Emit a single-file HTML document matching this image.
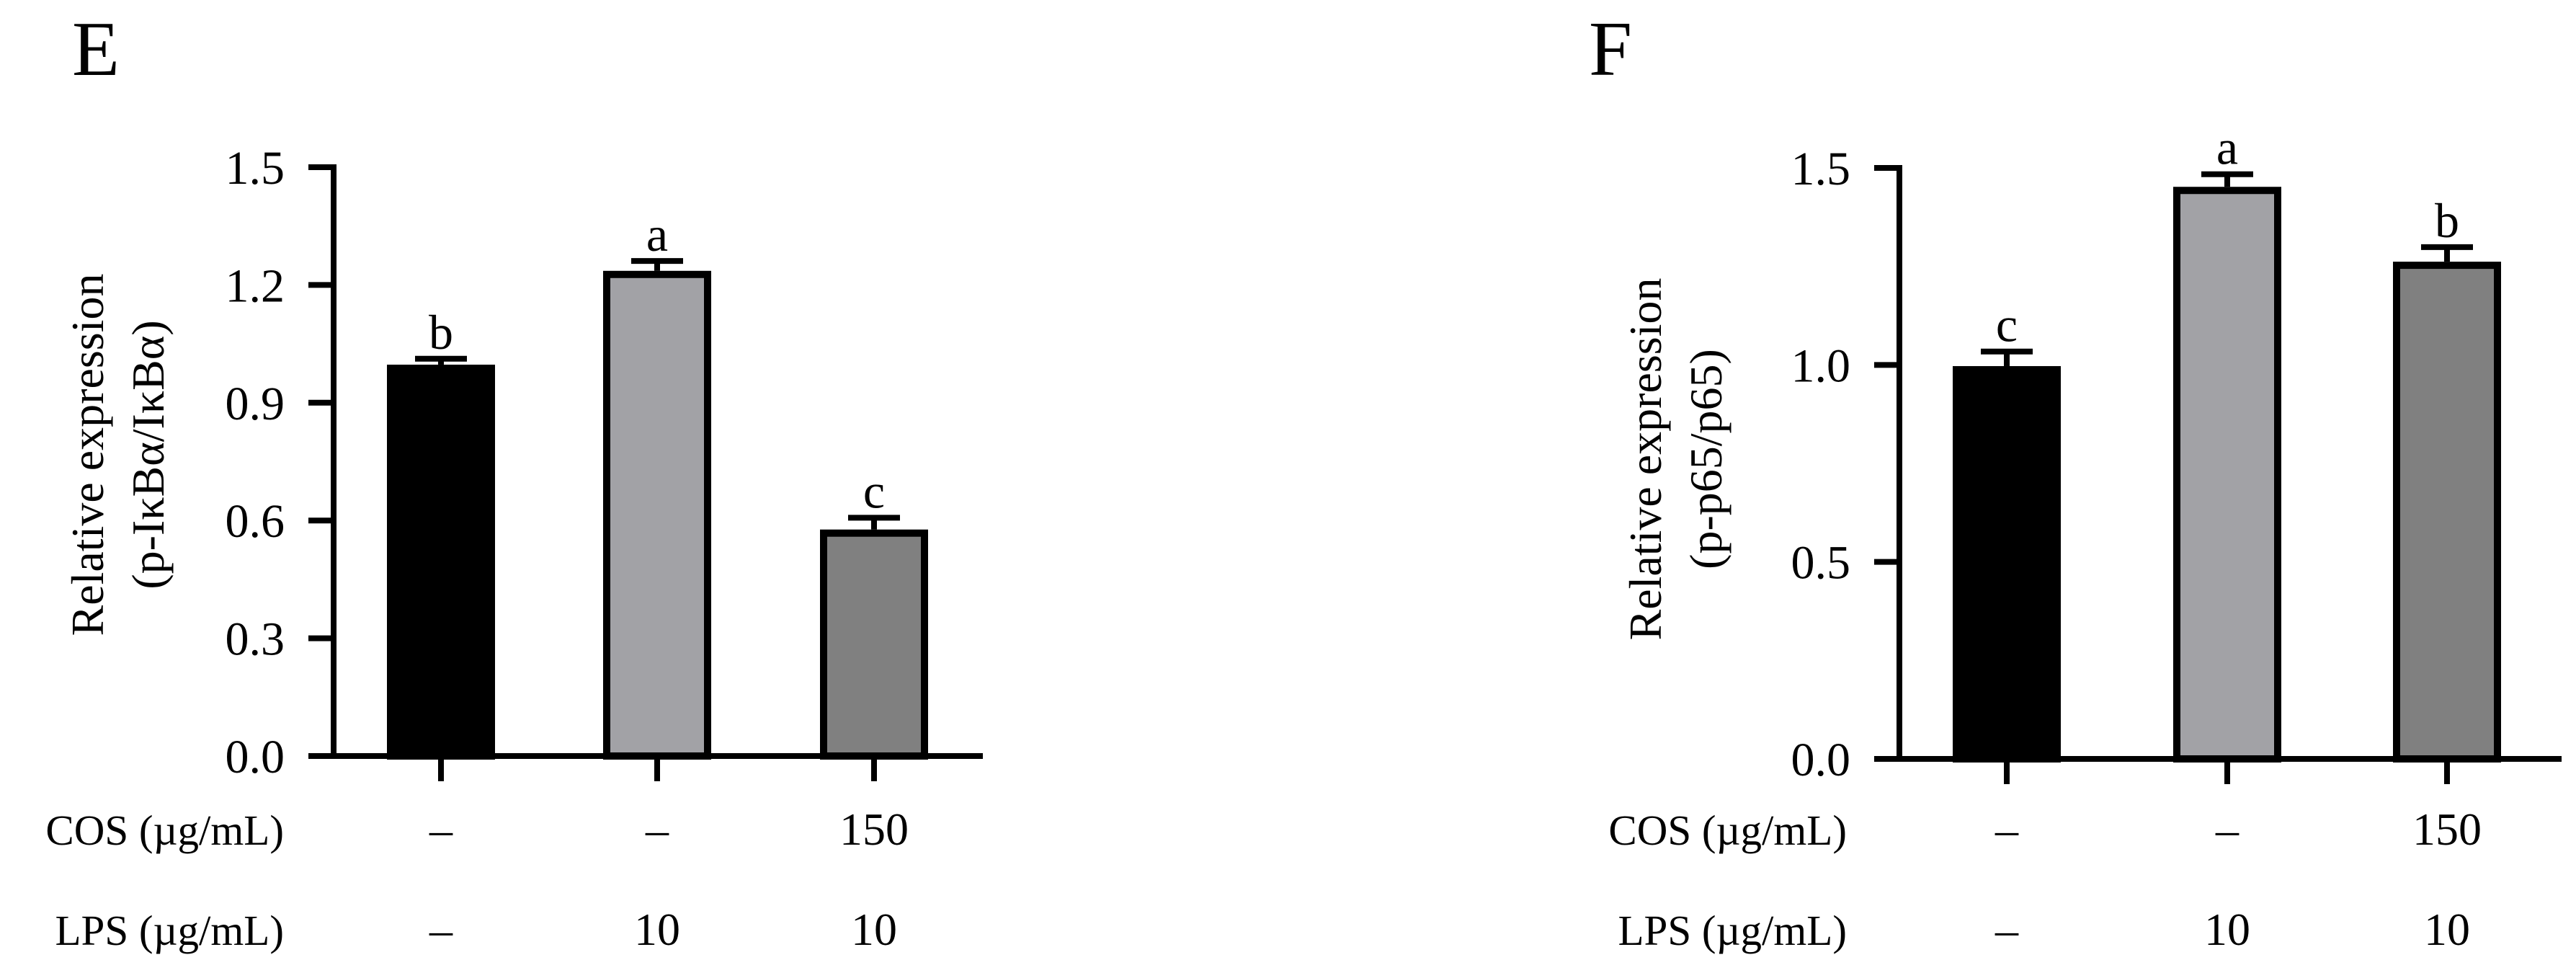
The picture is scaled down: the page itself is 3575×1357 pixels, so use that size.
<!DOCTYPE html>
<html><head><meta charset="utf-8"><style>
html,body{margin:0;padding:0;background:#fff;}
svg{display:block;font-family:"Liberation Serif","DejaVu Serif",serif;}
</style></head><body>
<svg id="chart" width="3575" height="1357" viewBox="0 0 3575 1357" xmlns="http://www.w3.org/2000/svg"></svg>
<script>
const categories = ["Control", "LPS", "COS+LPS"];
const cosLabels = ["\u2013", "\u2013", "150"];
const lpsLabels = ["\u2013", "10", "10"];
const valuesE = [0.997, 1.236, 0.577];
const errorsE = [0.015, 0.025, 0.03];
const lettersE = ["b", "a", "c"];
const ticksE = [0, 0.3, 0.6, 0.9, 1.2, 1.5];
const tickLabelsE = ["0.0", "0.3", "0.6", "0.9", "1.2", "1.5"];
const valuesF = [0.997, 1.452, 1.262];
const errorsF = [0.037, 0.032, 0.037];
const lettersF = ["c", "a", "b"];
const ticksF = [0, 0.5, 1.0, 1.5];
const tickLabelsF = ["0.0", "0.5", "1.0", "1.5"];
const fills = ["#000000", "#a2a2a6", "#808080"];

const svg = document.getElementById('chart');
const NS = "http://www.w3.org/2000/svg";
function mk(tag, attrs, parent){
  const e = document.createElementNS(NS, tag);
  for (const k in attrs) e.setAttribute(k, attrs[k]);
  (parent || svg).appendChild(e);
  return e;
}
function txt(s, attrs, parent){ const t = mk('text', attrs, parent); t.textContent = s; return t; }

function panel(p){
  const g = mk('g', {});
  
  
  const y = v => p.y0 - (v / p.yMax) * (p.y0 - p.yTop);
  const lab = txt(p.letter, {x: p.letterX, y: 104, 'font-size': 108, fill: '#000'}, g);
  
  
  const tt = mk('g', {transform: `translate(${p.titleX},${p.titleY}) rotate(-90)`}, g);
  
  
  txt('Relative expression', {x: 0, y: 0, 'text-anchor': 'middle', 'font-size': 64}, tt);
  txt(p.title2, {x: 0, y: 84, 'text-anchor': 'middle', 'font-size': 64}, tt);
  p.values.forEach((v, i) => {
    const cx = p.centers[i], w = p.barW;
    const top = y(v);
    const eb = mk('g', {}, g);
    
    
    const et = y(v + p.errors[i]);
    mk('line', {x1: cx, x2: cx, y1: top, y2: et, stroke: '#000', 'stroke-width': 8}, eb);
    mk('line', {x1: cx - 36, x2: cx + 36, y1: et, y2: et, stroke: '#000', 'stroke-width': 8}, eb);
    const r = mk('rect', {x: cx - w/2 + 5, y: top + 5, width: w - 10, height: p.y0 - top - 5, fill: fills[i], stroke: '#000', 'stroke-width': 10}, g);
    
    
    const l = txt(p.letters[i], {x: cx, y: et - 14, 'text-anchor': 'middle', 'font-size': 68}, g);
    
    
    const xt = mk('line', {x1: cx, x2: cx, y1: p.y0, y2: p.y0 + 35, stroke: '#000', 'stroke-width': 8}, g);
    
    
    const c = txt(cosLabels[i], {x: cx, y: 1172, 'text-anchor': 'middle', 'font-size': 64}, g);
    
    
    const lp = txt(lpsLabels[i], {x: cx, y: 1311, 'text-anchor': 'middle', 'font-size': 64}, g);
    
    
  });
  const ya = mk('line', {x1: p.axisX, x2: p.axisX, y1: p.yTop - 4, y2: p.y0 + 4, stroke: '#000', 'stroke-width': 8}, g);
  
  
  const xa = mk('line', {x1: p.axisX - 35, x2: p.xEnd, y1: p.y0, y2: p.y0, stroke: '#000', 'stroke-width': 8}, g);
  
  
  p.ticks.forEach((t, i) => {
    const yy = y(t);
    const tk = mk('line', {x1: p.axisX - 35, x2: p.axisX, y1: yy, y2: yy, stroke: '#000', 'stroke-width': 8}, g);
    
    
    const tl = txt(p.tickLabels[i], {x: p.axisX - 68, y: yy + 23, 'text-anchor': 'end', 'font-size': 66}, g);
    
    
  });
  const cl = txt('COS (\u00b5g/mL)', {x: p.rowLabelX, y: 1172, 'text-anchor': 'end', 'font-size': 59}, g);
  
  
  const ll = txt('LPS (\u00b5g/mL)', {x: p.rowLabelX, y: 1311, 'text-anchor': 'end', 'font-size': 59}, g);
  
  
}

panel({name: 'panel-e', letter: 'E', letterX: 100, title2: '(p-I\u03baB\u03b1/I\u03baB\u03b1)',
  titleX: 143, titleY: 631, axisX: 463, y0: 1049, yTop: 232, yMax: 1.5, xEnd: 1364,
  centers: [612, 912, 1213], barW: 150, values: valuesE, errors: errorsE, letters: lettersE,
  ticks: ticksE, tickLabels: tickLabelsE, rowLabelX: 394});
panel({name: 'panel-f', letter: 'F', letterX: 2205, title2: '(p-p65/p65)',
  titleX: 2305, titleY: 637, axisX: 2636, y0: 1053, yTop: 233, yMax: 1.5, xEnd: 3555,
  centers: [2785, 3091, 3396], barW: 150, values: valuesF, errors: errorsF, letters: lettersF,
  ticks: ticksF, tickLabels: tickLabelsF, rowLabelX: 2563});
</script>
</body></html>
